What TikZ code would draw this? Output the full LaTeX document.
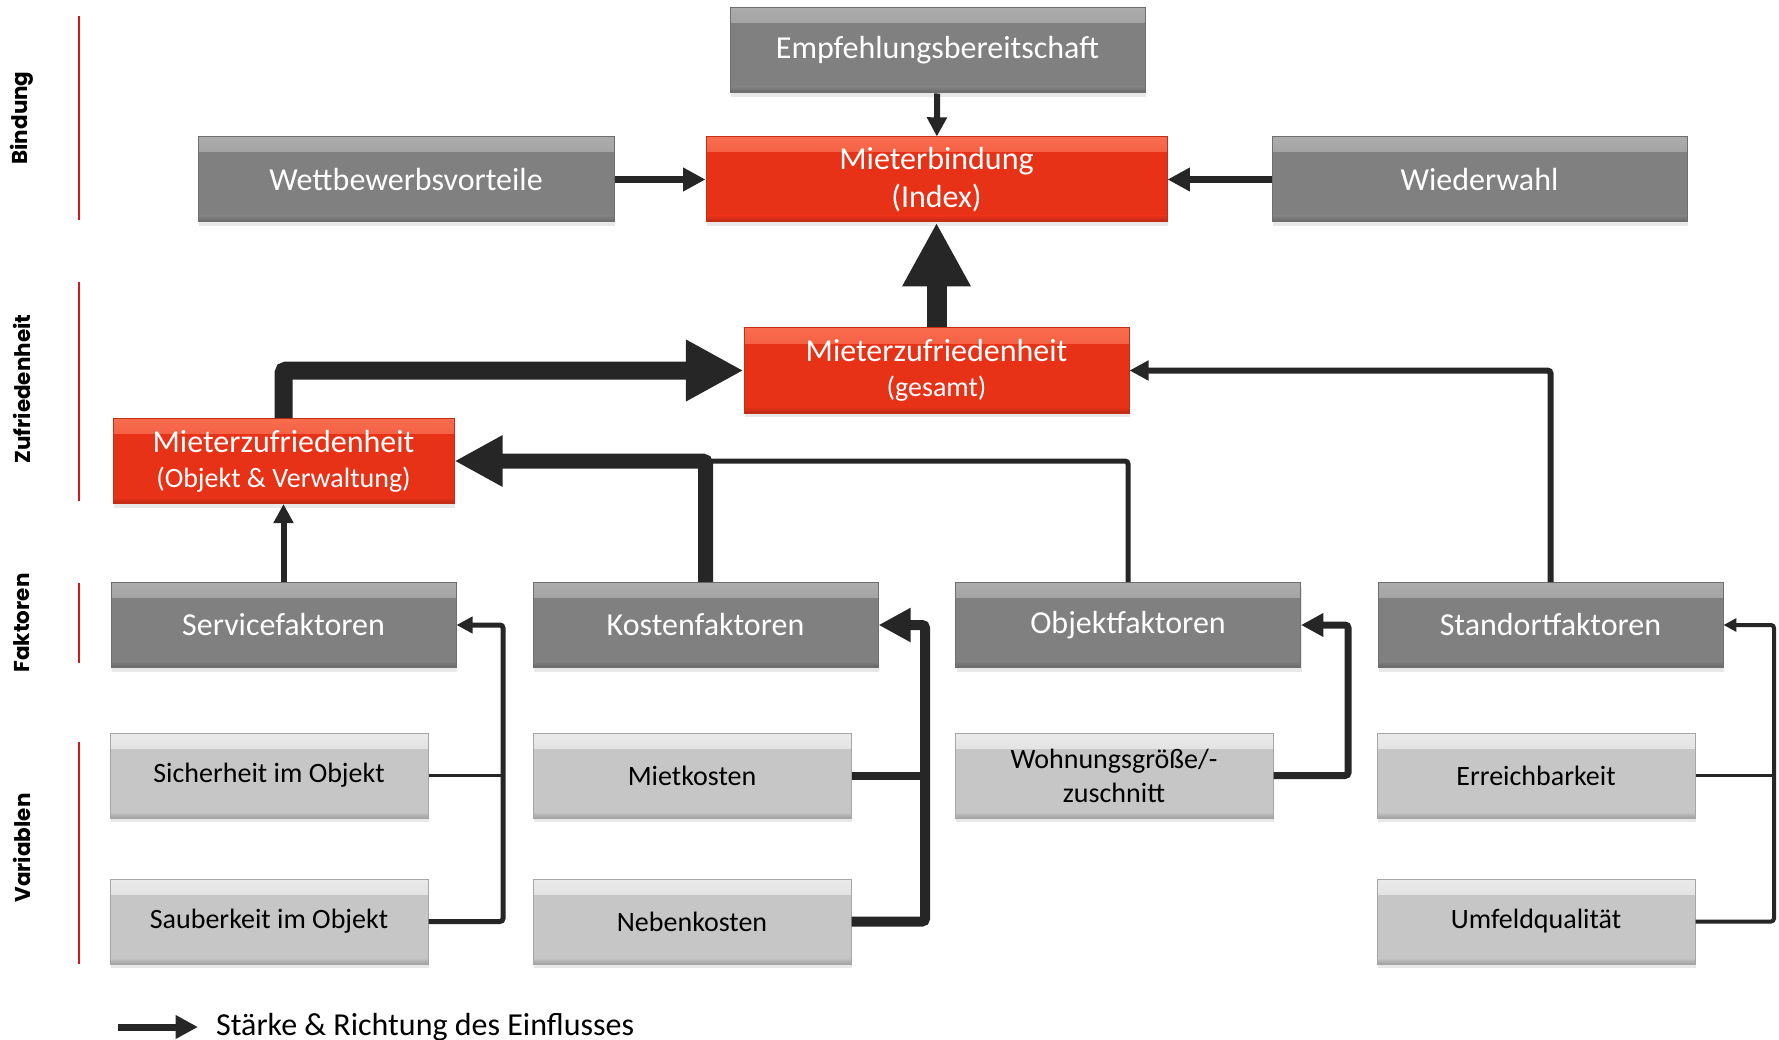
\documentclass[tikz,border=0pt]{standalone}
\usepackage{fontspec}
\setmainfont{Carlito}
\newfontfamily\sidefont{Poppins}
\usetikzlibrary{arrows.meta,shadows}

\definecolor{darkbase}{HTML}{808080}
\definecolor{darktop}{HTML}{ACACAC}
\definecolor{darkbot}{HTML}{666666}
\definecolor{darkedge}{HTML}{6E6E6E}
\definecolor{redbase}{HTML}{E83218}
\definecolor{redtop}{HTML}{F86C4E}
\definecolor{redbot}{HTML}{B82914}
\definecolor{rededge}{HTML}{C42D16}
\definecolor{lightbase}{HTML}{C6C6C6}
\definecolor{lighttop}{HTML}{EAEAEA}
\definecolor{lightbot}{HTML}{A0A0A0}
\definecolor{lightedge}{HTML}{A6A6A6}
\definecolor{linegray}{HTML}{262626}
\definecolor{layerred}{HTML}{D9151B}

\begin{document}
\begin{tikzpicture}[x=1pt,y=-1pt,>={Triangle[length=0pt 3.2,width=0pt 3.2]},
  bevel/.style n args={3}{fill=#1,path picture={
    \shade[top color=#2,bottom color=#1] (path picture bounding box.north west) rectangle ([yshift=-15pt]path picture bounding box.north east);
    \shade[top color=#1,bottom color=#3] ([yshift=6pt]path picture bounding box.south west) rectangle (path picture bounding box.south east);}},
  box/.style={rectangle,minimum width=345pt,minimum height=85pt,inner sep=0pt,align=center,
    line width=1pt,drop shadow={shadow xshift=1pt,shadow yshift=-4pt,opacity=0.18}},
  dark node/.style={box,bevel={darkbase}{darktop}{darkbot},draw=darkedge,text=white,font=\fontsize{32}{38}\selectfont},
  red node/.style={box,bevel={redbase}{redtop}{redbot},draw=rededge,text=white,font=\fontsize{32}{38}\selectfont},
  light node/.style={box,minimum width=318pt,bevel={lightbase}{lighttop}{lightbot},draw=lightedge,text=black,font=\fontsize{28}{34}\selectfont},
  link/.style={draw=linegray,line width=#1,rounded corners=3pt},
  layer/.style={rotate=90,font=\sidefont\bfseries\fontsize{21.5}{25}\selectfont},
  layer line/.style={draw=layerred,line width=1.5pt}]

\useasboundingbox (0,0) rectangle (1779,1040);

\node[dark node,minimum width=415pt](EB) at (937.5,50.5) {Empfehlungsbereitschaft};
\node[red node,minimum width=461pt](MB) at (936.5,179.5) {Mieterbindung\\(Index)};
\node[dark node,minimum width=416pt](WV) at (406,179.5) {Wettbewerbsvorteile};
\node[dark node,minimum width=415pt](WW) at (1479.5,179.5) {Wiederwahl};
\node[red node,minimum width=385pt](MZG) at (936.5,370.5) {Mieterzufriedenheit\\[-3pt]{\fontsize{28}{34}\selectfont(gesamt)}};
\node[red node,minimum width=341pt](MZO) at (283.5,461) {Mieterzufriedenheit\\[-3pt]{\fontsize{28}{34}\selectfont(Objekt \& Verwaltung)}};

\node[dark node](SF) at (283.5,625) {Servicefaktoren};
\node[dark node](KF) at (705.5,625) {Kostenfaktoren};
\node[dark node](OF) at (1128,625) {Objektfaktoren};
\node[dark node](STF) at (1550.5,625) {Standortfaktoren};

\node[light node](SIO) at (269,775.5) {Sicherheit im Objekt};
\node[light node](SAO) at (269,921.5) {Sauberkeit im Objekt};
\node[light node](MK) at (692,775.5) {Mietkosten};
\node[light node](NK) at (692,921.5) {Nebenkosten};
\node[light node](WG) at (1114,775.5) {Wohnungsgröße/-\\zuschnitt};
\node[light node](ER) at (1536,775.5) {Erreichbarkeit};
\node[light node](UQ) at (1536,921.5) {Umfeldqualität};

\node[layer](LB) at (22,118) {Bindung};
\node[layer](LZ) at (22,389) {Zufriedenheit};
\node[layer](LF) at (22,623) {Faktoren};
\node[layer](LV) at (22,848) {Variablen};
\draw[layer line] (79,16) -- (79,220);
\draw[layer line] (79,282) -- (79,501);
\draw[layer line] (79,583) -- (79,663);
\draw[layer line] (79,742) -- (79,964);

\coordinate (SB) at (503,625);
\coordinate (KB) at (925,625);
\coordinate (OB) at (1348,625);
\coordinate (STB) at (1774,625);
\coordinate (KJ) at (KF.north |- MZO.east);

\draw[link=6pt,->] (EB) -- (MB);
\draw[link=7pt,->] (WV) -- (MB);
\draw[link=7pt,->] (WW) -- (MB);
\draw[link=20pt,->] (MZG) -- (MB);
\draw[link=18pt,->] (MZO.north) |- (MZG.west);
\draw[link=6pt,->] (STF.north) |- (MZG.east);
\draw[link=5pt] (OF.north) |- (KJ);
\draw[link=15pt,->] (KF.north) |- (MZO.east);
\draw[link=6pt,->] (SF) -- (MZO);

\draw[link=5pt,->] (SAO.east) -| (SB) -- (SF.east);
\draw[link=2.5pt] (SIO.east) -- (SIO.east -| SB);
\draw[link=10pt,->] (NK.east) -| (KB) -- (KF.east);
\draw[link=8pt] (MK.east) -- (MK.east -| KB);
\draw[link=7pt,->] (WG.east) -| (OB) -- (OF.east);
\draw[link=4pt,->] (UQ.east) -| (STB) -- (STF.east);
\draw[link=2.5pt] (ER.east) -- (ER.east -| STB);

\coordinate (L1) at (118,1027);
\coordinate (L2) at (198,1027);
\node[anchor=west,inner sep=0pt,font=\fontsize{32}{38}\selectfont](LT) at (216,1027) {Stärke \& Richtung des Einflusses};
\draw[link=7pt,->] (L1) -- (L2);
\end{tikzpicture}
\end{document}
